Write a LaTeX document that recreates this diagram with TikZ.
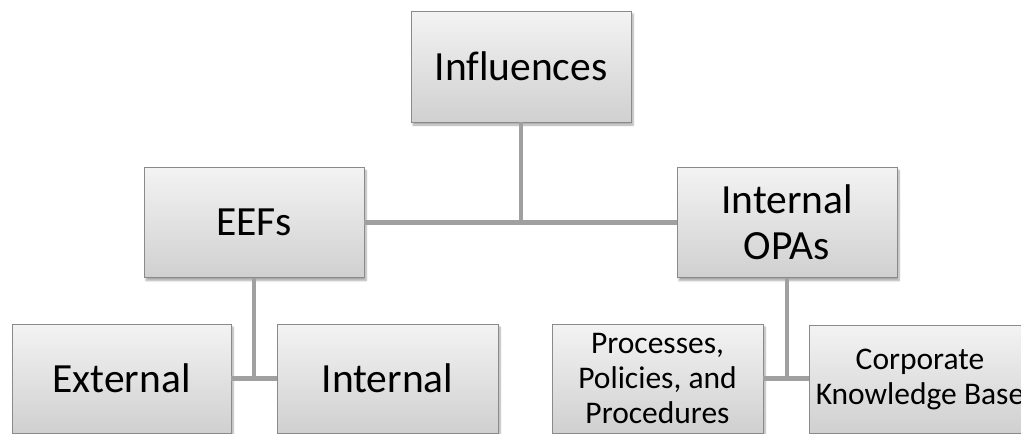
\documentclass[tikz,border=0pt]{standalone}
\usepackage{fontspec}
\setmainfont[Ligatures=NoCommon]{Carlito}
\usetikzlibrary{shadows.blur}

\definecolor{boxtop}{RGB}{243,243,243}
\definecolor{boxbottom}{RGB}{208,208,208}
\definecolor{boxline}{RGB}{138,138,138}
\definecolor{linkgray}{RGB}{160,160,160}

\tikzset{
  card/.style={rectangle, draw=boxline, line width=0.9pt,
    top color=boxtop, bottom color=boxbottom,
    inner sep=0pt, align=center, text=black,
    blur shadow={shadow xshift=2pt, shadow yshift=-3pt,
      shadow blur steps=6, shadow opacity=35}},
  bigcard/.style={card, font=\fontsize{41.5}{46}\selectfont},
  smallcard/.style={card, font=\fontsize{31.5}{35}\selectfont},
  link/.style={draw=linkgray, line width=4.5pt}
}

\begin{document}
\begin{tikzpicture}[x=1pt,y=-1pt]
  \useasboundingbox (0,0) rectangle (1021,434);

  % top level
  \node[bigcard, minimum width=220pt, minimum height=111pt] (inf) at (521,66.5) {Influences};

  % second level
  \node[bigcard, minimum width=220pt, minimum height=110pt] (eef) at (254,222.5) {EEFs};
  \node[bigcard, minimum width=220pt, minimum height=110pt] (opa) at (787,222.5) {Internal\\OPAs};

  % third level
  \node[bigcard, minimum width=219pt, minimum height=109pt] (ext) at (121.5,378.5) {External};
  \node[bigcard, minimum width=221pt, minimum height=109pt] (int) at (387.5,378.5) {Internal};
  \node[smallcard, minimum width=211pt, minimum height=109pt] (ppp) at (657.5,378.5) {Processes,\\Policies, and\\Procedures};
  \node[smallcard, minimum width=222pt, minimum height=108pt] (ckb) at (920,379) {Corporate\\Knowledge Base};

  % connectors
  \draw[link] (inf.south) -- (inf.south |- eef.east);
  \draw[link] (eef.east) -- (opa.west);
  \draw[link] (eef.south) -- (eef.south |- ext.east);
  \draw[link] (ext.east) -- (int.west);
  \draw[link] (opa.south) -- (opa.south |- ppp.east);
  \draw[link] (ppp.east) -- (ppp.east -| ckb.west);
\end{tikzpicture}
\end{document}
